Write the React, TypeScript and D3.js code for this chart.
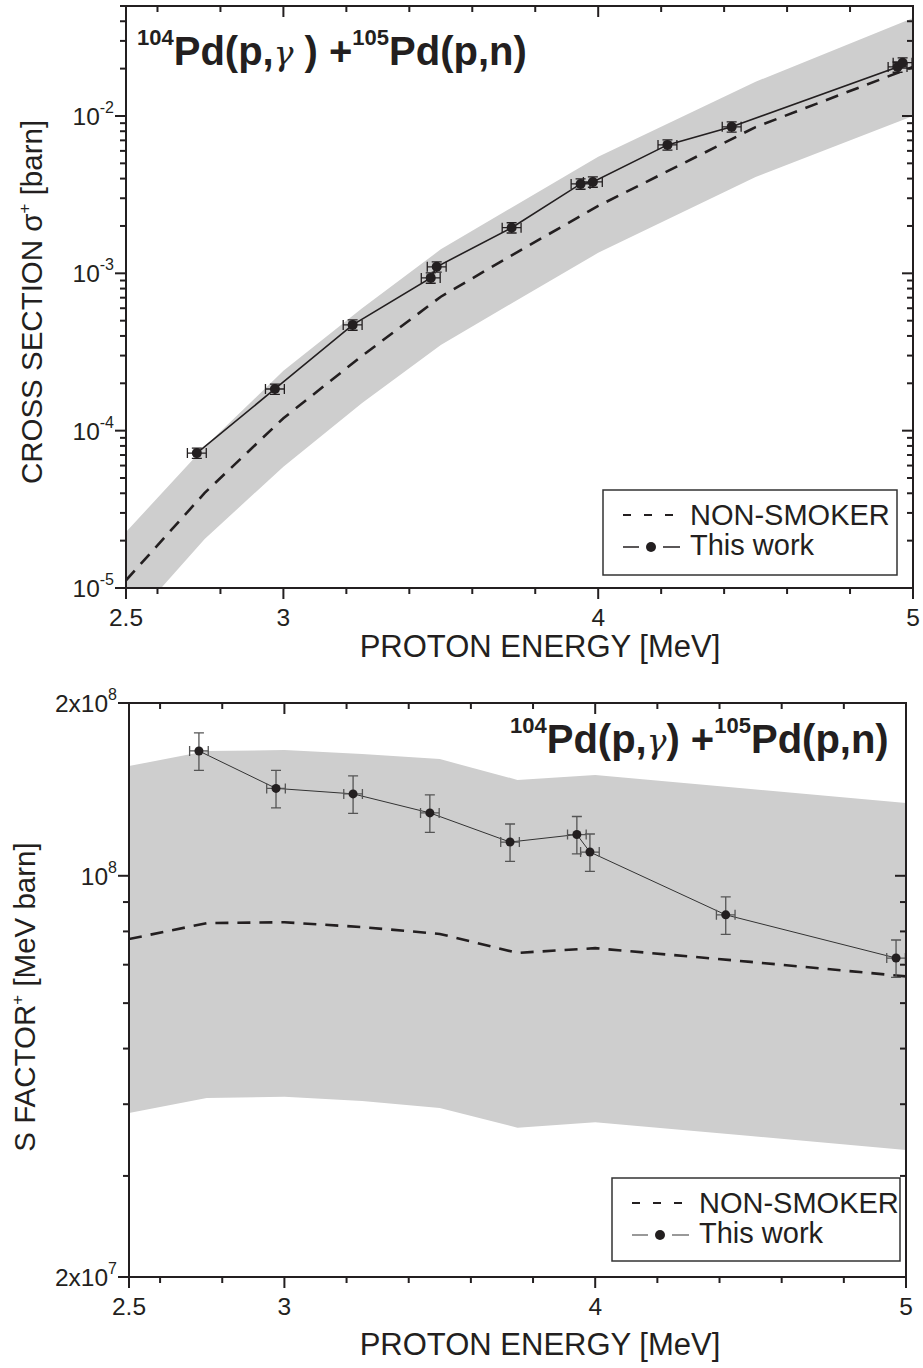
import React, { useRef, useEffect } from 'react';
import * as d3 from 'd3';

// NON-SMOKER grid, shared by both panels (MeV)
const modelEnergy = [2.5, 2.75, 3.0, 3.25, 3.5, 3.75, 4.0, 4.5, 5.0];

// cross section [barn]
const nonSmokerSigma = [1.12e-5, 4.02e-5, 1.2e-4, 2.99e-4, 7.1e-4, 1.39e-3, 2.68e-3, 8.5e-3, 2.05e-2];
const sigmaBandHigh = [2.27e-5, 7.9e-5, 2.4e-4, 6.0e-4, 1.42e-3, 2.8e-3, 5.5e-3, 1.65e-2, 4.2e-2];
const sigmaBandLow = [5.6e-6, 2.05e-5, 5.9e-5, 1.5e-4, 3.5e-4, 6.9e-4, 1.35e-3, 4.1e-3, 1.0e-2];

const sigmaEnergy = [2.725, 2.973, 3.22, 3.468, 3.487, 3.725, 3.944, 3.983, 4.22, 4.424, 4.951, 4.967];
const sigmaValue = [7.2e-5, 1.84e-4, 4.7e-4, 9.35e-4, 1.1e-3, 1.95e-3, 3.7e-3, 3.81e-3, 6.55e-3, 8.53e-3, 2.05e-2, 2.18e-2];
const sigmaRelErr = [0.075, 0.075, 0.075, 0.075, 0.075, 0.075, 0.075, 0.075, 0.075, 0.075, 0.075, 0.075];
const sigmaEnergyErr = [0.03, 0.03, 0.03, 0.03, 0.03, 0.03, 0.03, 0.03, 0.03, 0.03, 0.03, 0.03];

// S factor [MeV barn]
const nonSmokerS = [7.76e7, 8.27e7, 8.3e7, 8.14e7, 7.92e7, 7.34e7, 7.48e7, 7.08e7, 6.68e7];
const sBandHigh = [1.553e8, 1.65e8, 1.656e8, 1.63e8, 1.597e8, 1.469e8, 1.498e8, 1.416e8, 1.339e8];
const sBandLow = [3.86e7, 4.1e7, 4.12e7, 4.05e7, 3.94e7, 3.64e7, 3.72e7, 3.52e7, 3.33e7];

const sEnergy = [2.725, 2.973, 3.221, 3.468, 3.726, 3.941, 3.983, 4.42, 4.968];
const sValue = [1.65e8, 1.42e8, 1.389e8, 1.287e8, 1.145e8, 1.18e8, 1.1e8, 8.55e7, 7.19e7];
const sRelErr = [0.075, 0.075, 0.075, 0.075, 0.075, 0.075, 0.075, 0.075, 0.075];
const sEnergyErr = [0.03, 0.03, 0.03, 0.03, 0.03, 0.03, 0.03, 0.03, 0.03];

// ticks
const xTicks = [2.5, 3, 4, 5];
const xTickLabels = ['2.5', '3', '4', '5'];
const xMinorTicks = [2.6, 2.8, 3.2, 3.4, 3.6, 3.8, 4.2, 4.4, 4.6, 4.8];
const sigmaTicks = [1e-5, 1e-4, 1e-3, 1e-2];
const sigmaTickLabels = [['10', '-5'], ['10', '-4'], ['10', '-3'], ['10', '-2']];
const sTicks = [2e7, 1e8, 2e8];
const sTickLabels = [['2x10', '7'], ['10', '8'], ['2x10', '8']];

const ink = '#231f20';
const font = "'Liberation Sans', Arial, Helvetica, sans-serif";

function drawPanel(svg, cfg) {
  const { box } = cfg;
  const x = d3.scaleLinear().domain([2.5, 5]).range([box.left, box.right]);
  const y = d3.scaleLog().domain(cfg.yDomain).range([box.bottom, box.top]);
  const g = svg.append('g');

  const clipId = 'clip-' + cfg.id;
  g.append('clipPath').attr('id', clipId).append('rect')
    .attr('x', box.left).attr('y', box.top)
    .attr('width', box.right - box.left).attr('height', box.bottom - box.top);
  const plot = g.append('g').attr('clip-path', `url(#${clipId})`);

  // grey band
  const band = d3.area()
    .x((d, i) => x(modelEnergy[i]))
    .y0((d, i) => y(cfg.bandLow[i]))
    .y1((d, i) => y(cfg.bandHigh[i]));
  plot.append('path').datum(modelEnergy).attr('d', band).attr('fill', '#cecece');

  // NON-SMOKER dashed
  const model = d3.line()
    .x((d, i) => x(modelEnergy[i]))
    .y((d, i) => y(cfg.model[i]));
  plot.append('path').datum(modelEnergy).attr('d', model)
    .attr('fill', 'none').attr('stroke', ink).attr('stroke-width', 2.6)
    .attr('stroke-dasharray', '13,9');

  // data
  const idx = cfg.energy.map((_, i) => i);
  const line = d3.line().x(i => x(cfg.energy[i])).y(i => y(cfg.value[i]));
  g.append('path').datum(idx).attr('d', line)
    .attr('fill', 'none').attr('stroke', cfg.lineColor).attr('stroke-width', cfg.lineWidth);

  const cap = 5;
  idx.forEach(i => {
    const cx = x(cfg.energy[i]);
    const cy = y(cfg.value[i]);
    const xa = x(cfg.energy[i] - cfg.energyErr[i]);
    const xb = x(cfg.energy[i] + cfg.energyErr[i]);
    const ya = y(cfg.value[i] * (1 - cfg.relErr[i]));
    const yb = y(cfg.value[i] * (1 + cfg.relErr[i]));
    const eb = g.append('g').attr('stroke', cfg.errColor).attr('stroke-width', 1.3).attr('fill', 'none');
    eb.append('path').attr('d',
      `M${xa},${cy}H${xb}M${xa},${cy - cap}V${cy + cap}M${xb},${cy - cap}V${cy + cap}` +
      `M${cx},${ya}V${yb}M${cx - cap},${ya}H${cx + cap}M${cx - cap},${yb}H${cx + cap}`);
  });
  g.selectAll('circle.pt').data(idx).enter().append('circle')
    .attr('cx', i => x(cfg.energy[i])).attr('cy', i => y(cfg.value[i]))
    .attr('r', cfg.dotR).attr('fill', ink);

  // frame
  g.append('rect').attr('x', box.left).attr('y', box.top)
    .attr('width', box.right - box.left).attr('height', box.bottom - box.top)
    .attr('fill', 'none').attr('stroke', ink).attr('stroke-width', 2);

  // ticks
  const ticks = g.append('g').attr('stroke', ink).attr('stroke-width', 2);
  const major = 11, minor = 6;
  xTicks.forEach(t => {
    ticks.append('line').attr('x1', x(t)).attr('x2', x(t)).attr('y1', box.bottom).attr('y2', box.bottom + major);
    ticks.append('line').attr('x1', x(t)).attr('x2', x(t)).attr('y1', box.top).attr('y2', box.top + major);
  });
  xMinorTicks.forEach(t => {
    ticks.append('line').attr('x1', x(t)).attr('x2', x(t)).attr('y1', box.bottom).attr('y2', box.bottom + minor);
    ticks.append('line').attr('x1', x(t)).attr('x2', x(t)).attr('y1', box.top).attr('y2', box.top + minor);
  });
  const yMinor = y.ticks().filter(t => !cfg.yTicks.some(m => Math.abs(m - t) / m < 1e-6));
  cfg.yTicks.forEach(t => {
    ticks.append('line').attr('x1', box.left - major).attr('x2', box.left).attr('y1', y(t)).attr('y2', y(t));
    ticks.append('line').attr('x1', box.right - major).attr('x2', box.right).attr('y1', y(t)).attr('y2', y(t));
  });
  yMinor.forEach(t => {
    ticks.append('line').attr('x1', box.left - minor).attr('x2', box.left).attr('y1', y(t)).attr('y2', y(t));
    ticks.append('line').attr('x1', box.right - minor).attr('x2', box.right).attr('y1', y(t)).attr('y2', y(t));
  });

  // tick labels
  xTicks.forEach((t, i) => {
    g.append('text').attr('x', x(t)).attr('y', box.bottom + 38)
      .attr('text-anchor', 'middle').attr('font-family', font).attr('font-size', 24.5).attr('fill', ink)
      .text(xTickLabels[i]);
  });
  cfg.yTicks.forEach((t, i) => {
    const tx = g.append('text').attr('x', box.left - 12).attr('y', y(t) + 9)
      .attr('text-anchor', 'end').attr('font-family', font).attr('font-size', 24.5).attr('fill', ink);
    tx.append('tspan').text(cfg.yTickLabels[i][0]);
    tx.append('tspan').attr('dy', -12).attr('font-size', 16).text(cfg.yTickLabels[i][1]);
  });

  // axis titles
  g.append('text').attr('x', 540).attr('y', box.bottom + cfg.xTitleOffset)
    .attr('text-anchor', 'middle').attr('font-family', font).attr('font-size', 31).attr('fill', ink)
    .text('PROTON ENERGY [MeV]');
  const yt = g.append('text')
    .attr('transform', `translate(${cfg.yTitle.x},${cfg.yTitle.y}) rotate(-90)`)
    .attr('text-anchor', 'middle').attr('font-family', font).attr('font-size', 29.5).attr('fill', ink);
  yt.append('tspan').text(cfg.yTitle.a);
  yt.append('tspan').attr('dy', -12).attr('font-size', 17).text('+');
  yt.append('tspan').attr('dy', 12).text(cfg.yTitle.b);

  // reaction label
  const tt = g.append('text').attr('x', cfg.title.x).attr('y', cfg.title.y)
    .attr('font-family', font).attr('font-weight', 'bold').attr('font-size', 40).attr('fill', ink);
  tt.append('tspan').attr('font-size', 22).attr('dy', -20).text('104');
  tt.append('tspan').attr('dy', 20).text('Pd(p,');
  tt.append('tspan').attr('font-family', "'DejaVu Serif', serif").attr('font-weight', 'normal')
    .attr('font-style', 'italic').attr('font-size', 33).text('γ');
  tt.append('tspan').text(cfg.title.mid);
  tt.append('tspan').attr('font-size', 22).attr('dy', -20).text('105');
  tt.append('tspan').attr('dy', 20).text('Pd(p,n)');

  // legend
  const L = cfg.legend;
  const lg = g.append('g');
  lg.append('rect').attr('x', L.x).attr('y', L.y).attr('width', L.w).attr('height', L.h)
    .attr('fill', '#fff').attr('stroke', '#333').attr('stroke-width', 1.5);
  lg.append('line').attr('x1', L.x + 20).attr('x2', L.x + 70).attr('y1', L.y + 25).attr('y2', L.y + 25)
    .attr('stroke', ink).attr('stroke-width', 2).attr('stroke-dasharray', '8,13');
  lg.append('text').attr('x', L.x + 87).attr('y', L.y + 35).attr('font-family', font).attr('font-size', 29)
    .attr('fill', ink).text('NON-SMOKER');
  lg.append('line').attr('x1', L.x + 20).attr('x2', L.x + 36).attr('y1', L.y + 57).attr('y2', L.y + 57)
    .attr('stroke', cfg.legendLine).attr('stroke-width', 1.5);
  lg.append('line').attr('x1', L.x + 60).attr('x2', L.x + 77).attr('y1', L.y + 57).attr('y2', L.y + 57)
    .attr('stroke', cfg.legendLine).attr('stroke-width', 1.5);
  lg.append('circle').attr('cx', L.x + 48).attr('cy', L.y + 57).attr('r', 5).attr('fill', ink);
  lg.append('text').attr('x', L.x + 87).attr('y', L.y + 65).attr('font-family', font).attr('font-size', 29)
    .attr('fill', ink).text('This work');
}

export default function App() {
  const svgRef = useRef(null);

  useEffect(() => {
    const svg = d3.select(svgRef.current);
    svg.selectAll('*').remove();
    svg.append('rect').attr('width', 923).attr('height', 1368).attr('fill', '#fff');

    drawPanel(svg, {
      id: 'sigma',
      box: { left: 126, right: 913, top: 6, bottom: 588 },
      yDomain: [1e-5, 5e-2],
      bandLow: sigmaBandLow, bandHigh: sigmaBandHigh, model: nonSmokerSigma,
      energy: sigmaEnergy, value: sigmaValue, relErr: sigmaRelErr, energyErr: sigmaEnergyErr,
      lineColor: ink, lineWidth: 1.6, errColor: ink, dotR: 5,
      yTicks: sigmaTicks, yTickLabels: sigmaTickLabels,
      xTitleOffset: 69,
      yTitle: { x: 42, y: 302, a: 'CROSS SECTION σ', b: ' [barn]' },
      title: { x: 137, y: 65, mid: ' ) +' },
      legend: { x: 603, y: 490, w: 294, h: 85 },
      legendLine: ink,
    });

    drawPanel(svg, {
      id: 'sfac',
      box: { left: 129, right: 906, top: 703, bottom: 1277 },
      yDomain: [2e7, 2e8],
      bandLow: sBandLow, bandHigh: sBandHigh, model: nonSmokerS,
      energy: sEnergy, value: sValue, relErr: sRelErr, energyErr: sEnergyErr,
      lineColor: '#333', lineWidth: 1, errColor: '#555', dotR: 4.5,
      yTicks: sTicks, yTickLabels: sTickLabels,
      xTitleOffset: 78,
      yTitle: { x: 35, y: 997, a: 'S FACTOR', b: ' [MeV barn]' },
      title: { x: 510, y: 753, mid: ') +' },
      legend: { x: 612, y: 1178, w: 288, h: 83 },
      legendLine: '#777',
    });
  }, []);

  return (
    <svg ref={svgRef} width={923} height={1368}
      style={{ position: 'absolute', left: 0, top: 0, display: 'block' }} />
  );
}
